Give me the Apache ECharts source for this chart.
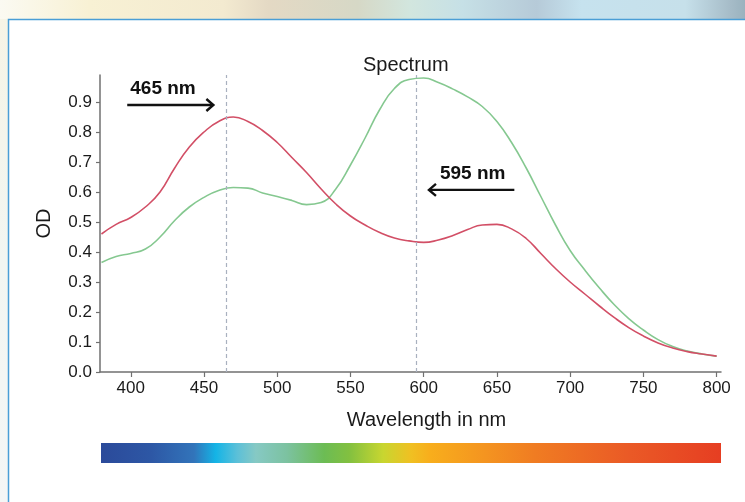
<!DOCTYPE html>
<html><head><meta charset="utf-8">
<script src="https://cdn.jsdelivr.net/npm/echarts@6/dist/echarts.min.js"></script>
<style>html,body{margin:0;padding:0;background:#fff}#c{width:745px;height:502px}</style>
</head><body><div id="c"></div>
<script>
// ---- data ----
const wavelengths = [380,390,400,410,420,430,440,450,460,470,480,490,500,510,520,530,540,550,560,570,580,590,600,610,620,630,640,650,660,670,680,690,700,710,720,730,740,750,760,770,780,790,800];
const odRed = [0.46,0.492,0.515,0.55,0.60,0.68,0.75,0.80,0.835,0.85,0.835,0.805,0.765,0.715,0.665,0.61,0.56,0.52,0.49,0.465,0.447,0.437,0.432,0.44,0.455,0.475,0.49,0.492,0.477,0.445,0.395,0.345,0.30,0.26,0.22,0.182,0.148,0.12,0.097,0.08,0.068,0.06,0.053];
const odGreen = [0.365,0.385,0.395,0.41,0.45,0.505,0.55,0.582,0.605,0.615,0.613,0.597,0.585,0.572,0.558,0.565,0.61,0.69,0.78,0.875,0.945,0.975,0.98,0.965,0.943,0.917,0.885,0.835,0.765,0.68,0.585,0.49,0.405,0.34,0.28,0.225,0.178,0.14,0.108,0.085,0.07,0.06,0.053];
const xTicks = [400,450,500,550,600,650,700,750,800];
const yTicks = [0,0.1,0.2,0.3,0.4,0.5,0.6,0.7,0.8,0.9];
const peakMarkers = [465, 595];
const arrowNotes = [
  {text:'465 nm', from:[397.6,0.89], to:[456.4,0.89]},
  {text:'595 nm', from:[661.9,0.607], to:[603.6,0.607]}
];

const FONT = '"Liberation Sans", Arial, Helvetica, sans-serif';
const chart = echarts.init(document.getElementById('c'));

const option = {
  animation: false,
  title: {text:'Spectrum', left: 358, top: 50,
    textStyle:{fontFamily:FONT, fontSize:20, fontWeight:'normal', color:'#1a1a1a'}},
  grid: {left:100, right:24, top:75, bottom:130},
  xAxis: {
    type:'value', min:379, max:803,
    axisLine:{show:true, onZero:false, lineStyle:{color:'#707070', width:1.5}},
    axisTick:{show:true, length:5, customValues:xTicks, lineStyle:{color:'#707070', width:1.2}},
    axisLabel:{customValues:xTicks, fontSize:17, color:'#1a1a1a', margin:8, fontFamily:FONT},
    splitLine:{show:false},
    name:'Wavelength in nm', nameLocation:'middle', nameGap:38,
    nameTextStyle:{fontFamily:FONT, fontSize:20, color:'#1a1a1a', padding:[0,0,0,32]}
  },
  yAxis: {
    type:'value', min:0, max:0.99,
    axisLine:{show:true, lineStyle:{color:'#707070', width:1.5}},
    axisTick:{show:true, length:4, customValues:yTicks, lineStyle:{color:'#707070', width:1.2}},
    axisLabel:{customValues:yTicks, fontSize:17, color:'#1a1a1a', margin:8, fontFamily:FONT,
      formatter:v=>v.toFixed(1)},
    splitLine:{show:false},
    name:'OD', nameLocation:'middle', nameGap:46,
    nameTextStyle:{fontFamily:FONT, fontSize:20, color:'#1a1a1a'}
  },
  series: [
    {type:'line', name:'465', data:wavelengths.map((w,i)=>[w,odRed[i]]),
     symbol:'none', smooth:0.5,
     lineStyle:{color:'#d24f66', width:1.6}, z:3,
     markLine:{silent:true, symbol:'none', label:{show:false},
       lineStyle:{color:'#a9b1bf', type:[4,3], width:1.2},
       data: peakMarkers.map(v=>({xAxis:v}))}},
    {type:'line', name:'595', data:wavelengths.map((w,i)=>[w,odGreen[i]]),
     symbol:'none', smooth:0.5,
     lineStyle:{color:'#85c890', width:1.6}, z:2}
  ]
};
chart.setOption(option);

// ---- decorations ----
const px = p => chart.convertToPixel({gridIndex:0}, p);
const g = [];
g.push({type:'rect', z:-20, silent:true, shape:{x:0,y:0,width:745,height:502},
  style:{fill:new echarts.graphic.LinearGradient(0,0,1,0,[
    {offset:0,color:'#fbfaf2'},{offset:0.12,color:'#f8f1d4'},{offset:0.3,color:'#f3ead0'},
    {offset:0.36,color:'#e4d9c4'},{offset:0.48,color:'#d6d8c6'},{offset:0.55,color:'#d2e6de'},
    {offset:0.62,color:'#c6e0e6'},{offset:0.72,color:'#b6cad8'},{offset:0.78,color:'#c6e2ee'},
    {offset:0.92,color:'#c6e0ea'},{offset:0.98,color:'#a6bcc8'},{offset:1,color:'#9ab2be'}])}});
g.push({type:'rect', z:-19, silent:true, shape:{x:0,y:19,width:8,height:483},
  style:{fill:new echarts.graphic.LinearGradient(0,0,0,1,[
    {offset:0,color:'#f6f4e6'},{offset:0.5,color:'#f2f6f2'},{offset:1,color:'#f4f6f6'}])}});
g.push({type:'rect', z:-18, silent:true, shape:{x:8.5,y:19.5,width:745,height:500},
  style:{fill:'#ffffff', stroke:'#4a9ed6', lineWidth:1.5}});
g.push({type:'rect', z:-10, silent:true, shape:{x:101,y:443,width:620,height:20},
  style:{fill:new echarts.graphic.LinearGradient(0,0,1,0,[
    {offset:0,color:'#2b4a9a'},{offset:0.08,color:'#2d57a5'},{offset:0.15,color:'#3274ba'},
    {offset:0.185,color:'#14b4e6'},{offset:0.22,color:'#5cc0d8'},{offset:0.25,color:'#86c9c4'},
    {offset:0.3,color:'#7cc2a0'},{offset:0.36,color:'#6cbc54'},{offset:0.40,color:'#82c040'},
    {offset:0.455,color:'#c8d630'},{offset:0.5,color:'#f0c022'},{offset:0.53,color:'#f8ae1c'},
    {offset:0.62,color:'#f49420'},{offset:0.7,color:'#f07c22'},{offset:0.85,color:'#ea5a26'},
    {offset:1,color:'#e63e22'}])}});
arrowNotes.forEach(a=>{
  const s = px(a.from), e = px(a.to);
  const dir = Math.sign(e[0]-s[0]);
  g.push({type:'line', z:50, silent:true, shape:{x1:s[0],y1:s[1],x2:e[0]-dir*1,y2:e[1]},
    style:{stroke:'#111', lineWidth:2.4}});
  g.push({type:'polyline', z:50, silent:true,
    shape:{points:[[e[0]-dir*7,e[1]-6],[e[0],e[1]],[e[0]-dir*7,e[1]+6]]},
    style:{stroke:'#111', lineWidth:2.4, fill:null}});
  const left = Math.min(s[0],e[0]);
  const tx = dir>0 ? left+3 : left+11;
  g.push({type:'text', z:50, silent:true, x:tx, y:s[1]-16,
    style:{text:a.text, fill:'#111', font:'bold 19px '+FONT, textAlign:'left', textVerticalAlign:'middle'}});
});
chart.setOption({graphic:g});
</script>
</body></html>
